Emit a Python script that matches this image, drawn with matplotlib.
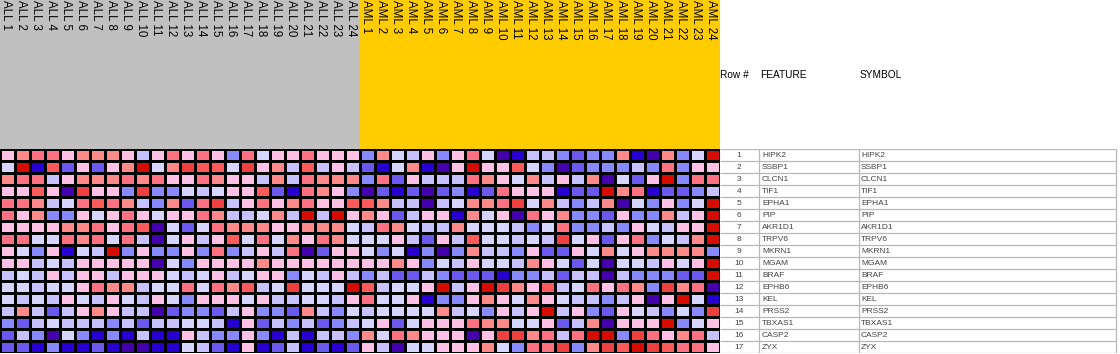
import numpy as np
import matplotlib
matplotlib.use('Agg')
import matplotlib.pyplot as plt
from matplotlib.colors import ListedColormap, BoundaryNorm

plt.rcParams['font.family'] = ['Liberation Sans', 'DejaVu Sans']

# ---------------- data ----------------
samples = [f'ALL {i}' for i in range(1, 25)] + [f'AML {i}' for i in range(1, 25)]
groups = ['ALL'] * 24 + ['AML'] * 24
features = ['HIPK2', 'SSBP1', 'CLCN1', 'TIF1', 'EPHA1', 'PIP', 'AKR1D1', 'TRPV6',
            'MKRN1', 'MGAM', 'BRAF', 'EPHB6', 'KEL', 'PRSS2', 'TBXAS1', 'CASP2', 'ZYX']
symbols = ['HIPK2', 'SSBP1', 'CLCN1', 'TIF1', 'EPHA1', 'PIP', 'AKR1D1', 'TRPV6',
           'MKRN1', 'MGAM', 'BRAF', 'EPHB6', 'KEL', 'PRSS2', 'TBXAS1', 'CASP2', 'ZYX']

# colour level of each cell (0 = darkest blue ... 11 = darkest red)
levels = [
    [6,7,8,8,6,7,7,7,6,4,6,8,6,8,6,3, 8,5,6,6,8,6,6,6,3,7,5,4,6,3,6,8, 5,0,1,4,4,3,2,3,3,7,1,0,7,3,5,11],
    [5,11,1,9,2,6,2,6,7,11,5,7,10,9,9,5, 10,6,7,4,9,4,6,4,2,1,5,7,1,0,6,11, 6,6,9,5,3,0,2,3,3,3,4,3,8,3,6,6],
    [7,8,8,4,6,7,7,7,8,7,8,6,6,8,7,6, 6,4,7,4,8,7,7,7,3,8,2,6,4,4,4,8, 7,6,5,7,4,6,4,7,0,5,2,6,11,3,8,8],
    [6,6,9,6,0,10,6,6,3,10,3,3,5,4,5,6, 6,9,2,1,8,7,6,3,0,2,1,2,0,2,3,1, 2,8,6,6,6,1,2,2,11,7,8,1,2,2,3,4],
    [8,8,7,4,5,8,9,8,7,4,3,7,2,8,10,4, 6,8,6,7,8,6,6,9,9,7,4,4,0,4,5,7, 7,8,10,5,7,4,3,4,7,0,5,3,6,3,5,11],
    [8,6,7,3,3,6,5,6,8,6,5,6,6,8,7,4, 4,5,7,4,11,4,11,6,7,6,2,4,6,6,1,7, 5,6,0,8,6,7,3,3,2,6,3,3,7,4,6,11],
    [6,6,6,6,7,7,8,6,8,9,0,5,2,5,8,7, 7,7,6,6,7,7,7,5,4,8,7,5,4,4,7,5, 5,5,4,3,5,8,3,3,4,3,6,5,4,6,6,11],
    [8,8,5,5,8,7,8,5,8,4,0,5,6,4,6,9, 5,8,5,7,6,8,7,5,5,5,6,4,2,6,4,9, 5,5,4,5,4,10,5,6,2,6,8,3,5,4,7,11],
    [6,5,3,6,1,5,4,11,3,6,3,3,6,3,8,3, 4,6,4,8,0,2,6,6,5,3,5,1,3,0,3,7, 4,4,3,6,2,2,6,5,7,5,6,7,7,7,7,3],
    [6,6,4,5,4,6,6,6,6,6,0,5,3,6,6,6, 6,7,6,6,6,6,6,6,6,6,7,6,3,5,4,6, 5,5,4,7,6,5,2,5,0,5,5,4,6,5,6,11],
    [4,5,4,6,4,6,6,4,6,6,6,5,4,5,6,4, 5,6,6,3,5,4,6,4,3,4,2,2,4,3,2,2, 2,1,3,3,4,2,4,4,0,4,3,3,3,2,2,11],
    [5,5,4,5,5,6,8,7,7,4,5,5,8,5,8,7, 9,4,5,10,5,5,5,11,9,4,5,5,6,11,4,6, 11,10,7,6,9,4,5,8,6,8,7,3,10,7,8,0],
    [5,4,5,4,6,5,4,6,5,4,6,5,3,6,6,6, 5,6,4,4,5,5,4,6,8,5,5,6,1,3,3,6, 7,6,5,7,6,5,4,4,3,4,6,0,6,11,5,1],
    [4,7,4,2,4,6,7,6,4,4,0,2,3,3,2,4, 6,3,3,2,7,4,3,5,4,5,5,5,5,7,4,5, 3,6,4,6,11,4,6,3,2,6,5,4,3,5,3,10],
    [3,2,4,5,4,4,4,3,4,2,4,4,5,5,4,1, 6,2,4,3,4,2,3,4,5,6,2,5,6,6,6,8, 7,7,5,5,6,2,4,7,0,6,6,6,11,3,5,6],
    [2,4,3,0,5,3,1,3,1,4,1,1,6,4,3,3, 6,3,1,4,1,4,4,3,7,5,8,7,6,6,6,0, 6,10,10,7,8,4,8,11,11,3,10,8,6,7,8,4],
    [2,2,1,3,1,1,2,1,0,0,1,1,5,4,2,1, 6,1,2,4,1,2,1,2,6,4,0,5,5,6,6,6, 7,5,3,8,8,10,3,7,10,9,11,10,9,8,8,6],
]

palette = ['#4500AD', '#2700D1', '#6B58EF', '#8888FF', '#C7C1FF', '#D5D5FF',
           '#FFC0E5', '#FF8989', '#FF7080', '#FF5A5A', '#EF4040', '#D60C00']
group_colors = {'ALL': '#C0C0C0', 'AML': '#FFCC00'}

# ---------------- layout (pixels) ----------------
W, H = 1120, 354
hm_top, hm_bot, hm_right = 149, 353, 720

fig = plt.figure(figsize=(W / 100, H / 100), dpi=100)
fig.patch.set_facecolor('white')

# heatmap
data = np.array(levels)
n_rows, n_cols = data.shape
ax = fig.add_axes([0, (H - hm_bot) / H, hm_right / W, (hm_bot - hm_top) / H])
cmap = ListedColormap(palette)
norm = BoundaryNorm(np.arange(-0.5, len(palette)), len(palette))
ax.pcolormesh(np.arange(n_cols + 1), np.arange(n_rows + 1), data, cmap=cmap, norm=norm,
              edgecolors='black', linewidth=0.8)
ax.set_xlim(0, n_cols)
ax.set_ylim(n_rows, 0)
ax.axis('off')

# column header
axh = fig.add_axes([0, (H - hm_top) / H, hm_right / W, hm_top / H])
axh.bar(np.arange(n_cols), 1, width=1, bottom=0, align='edge',
        color=[group_colors[g] for g in groups], linewidth=0, antialiased=False)
axh.set_xlim(0, n_cols)
axh.set_ylim(1, 0)
axh.axis('off')
for i, s in enumerate(samples):
    axh.text(i + 0.02, 0.0, s, rotation=270, ha='left', va='top', fontsize=8.3, color='black')

# annotation table
axt = fig.add_axes([hm_right / W, (H - hm_bot) / H, (W - hm_right) / W, (hm_bot - hm_top) / H])
axt.set_xlim(hm_right, W)
axt.set_ylim(n_rows, 0)
axt.axis('off')
line_c = '#B8B8B8'
axt.hlines(np.arange(n_rows + 1), hm_right, 1116, color=line_c, lw=0.9)
axt.vlines([759, 859, 1116], 0, n_rows, color=line_c, lw=0.9)
for r in range(n_rows):
    axt.text(739, r + 0.55, str(r + 1), ha='center', va='center', fontsize=6, color='#444444')
    axt.text(762, r + 0.55, features[r], ha='left', va='center', fontsize=6, color='#444444')
    axt.text(861, r + 0.55, symbols[r], ha='left', va='center', fontsize=6, color='#444444')

hy = 1 - 75 / H
fig.text(720 / W, hy, 'Row #', ha='left', va='center', fontsize=7.3)
fig.text(760 / W, hy, 'FEATURE', ha='left', va='center', fontsize=7.3)
fig.text(860 / W, hy, 'SYMBOL', ha='left', va='center', fontsize=7.3)

fig.savefig('out.png', dpi=100)
